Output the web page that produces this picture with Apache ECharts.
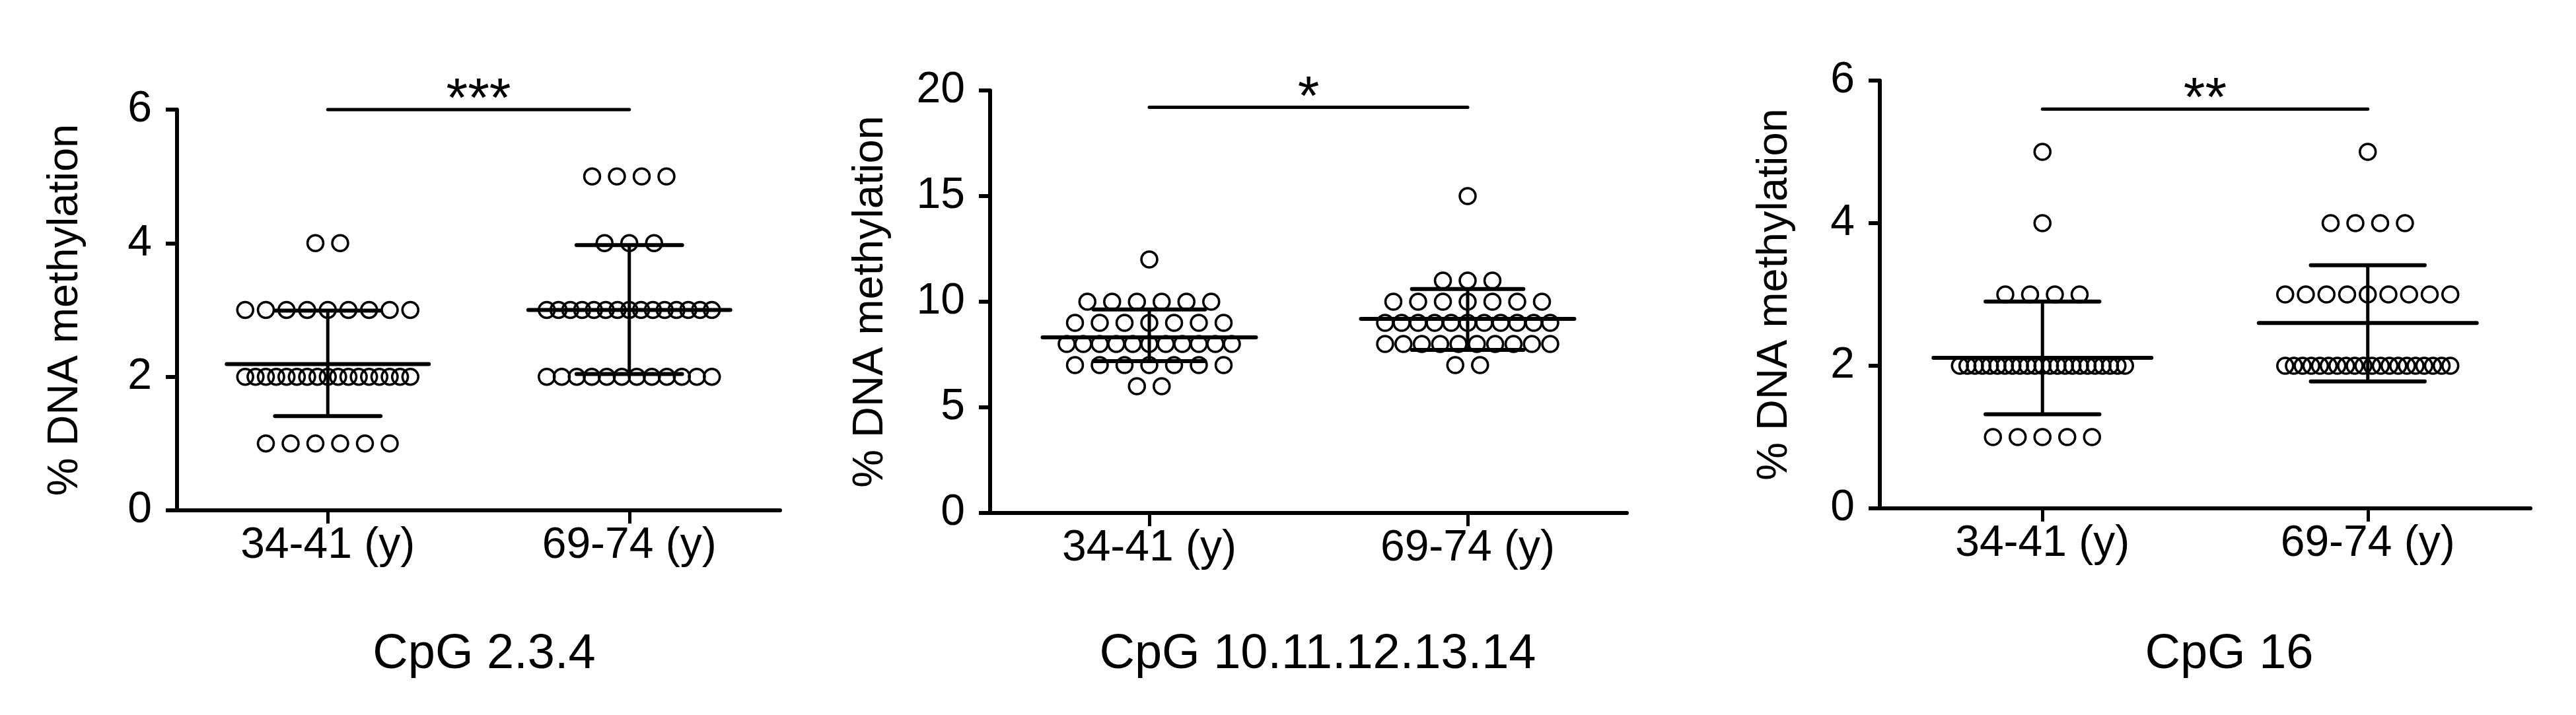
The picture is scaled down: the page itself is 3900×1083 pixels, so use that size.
<!DOCTYPE html>
<html>
<head>
<meta charset="utf-8">
<script src="https://cdn.jsdelivr.net/npm/echarts@6/dist/echarts.min.js"></script>
<style>
html,body{margin:0;padding:0;background:#fff;}
#chart{width:3900px;height:1083px;}
</style>
</head>
<body>
<div id="chart"></div>
<script>
// ---------------- data ----------------
const CATEGORIES = ['34-41 (y)', '69-74 (y)'];
const PANEL_TITLES = ['CpG 2.3.4', 'CpG 10.11.12.13.14', 'CpG 16'];
const SIG_LABELS = ['***', '*', '**'];
const SIG_Y = [6, 19.2, 5.6];
const Y_MAX = [6, 20, 6];
const Y_INTERVAL = [2, 5, 2];
const Y_NAME = '% DNA methylation';

// CpG 2.3.4
const cpg234_young = [4,4, 3,3,3,3,3,3,3,3,3, 2,2,2,2,2,2,2,2,2,2,2,2,2,2,2,2,2, 1,1,1,1,1,1];
const cpg234_old   = [5,5,5,5, 4,4,4, 3,3,3,3,3,3,3,3,3,3,3,3,3,3,3, 2,2,2,2,2,2,2,2,2,2,2,2];
const cpg234_mean  = [2.19, 3.0];
const cpg234_sdLow = [1.41, 2.04];
const cpg234_sdHigh= [2.99, 3.97];

// CpG 10.11.12.13.14
const cpg10_young = [12, 10,10,10,10,10,10, 9,9,9,9,9,9,9, 8,8,8,8,8,8,8,8,8,8,8, 7,7,7,7,7,7,7, 6,6];
const cpg10_old   = [15, 11,11,11, 10,10,10,10,10,10,10, 9,9,9,9,9,9,9,9,9,9,9, 8,8,8,8,8,8,8,8,8,8, 7,7];
const cpg10_mean  = [8.31, 9.19];
const cpg10_sdLow = [7.19, 7.72];
const cpg10_sdHigh= [9.63, 10.6];

// CpG 16
const cpg16_young = [5, 4, 3,3,3,3, 2,2,2,2,2,2,2,2,2,2,2,2,2,2,2,2,2,2,2,2,2,2,2, 1,1,1,1,1];
const cpg16_old   = [5, 4,4,4,4, 3,3,3,3,3,3,3,3,3, 2,2,2,2,2,2,2,2,2,2,2,2,2,2,2,2,2,2,2,2];
const cpg16_mean  = [2.11, 2.6];
const cpg16_sdLow = [1.32, 1.78];
const cpg16_sdHigh= [2.9, 3.41];

const PANELS = [
  {young: cpg234_young, old: cpg234_old, mean: cpg234_mean, lo: cpg234_sdLow, hi: cpg234_sdHigh},
  {young: cpg10_young,  old: cpg10_old,  mean: cpg10_mean,  lo: cpg10_sdLow,  hi: cpg10_sdHigh},
  {young: cpg16_young,  old: cpg16_old,  mean: cpg16_mean,  lo: cpg16_sdLow,  hi: cpg16_sdHigh}
];

// ---------------- layout ----------------
const FONT = '"Liberation Sans", Arial, Helvetica, sans-serif';
const GRIDS = [
  {left: 268,  top: 166, width: 913, height: 607},
  {left: 1499, top: 137, width: 964, height: 640},
  {left: 2846, top: 122, width: 985, height: 648}
];
const NAME_GAP = [136, 148, 126];
const TITLE_X = [728, 1990, 3370];
const STEP_PX = 37.5;   // spacing of dots in a row
const SPAN_PX = 250;    // max spread of a crowded row

// spread identical values side by side (scatter-dot-plot layout)
function swarm(values, group, pxPerUnit) {
  const counts = {};
  values.forEach(v => { counts[v] = (counts[v] || 0) + 1; });
  const seen = {};
  return values.map(v => {
    const n = counts[v];
    seen[v] = (seen[v] === undefined) ? 0 : seen[v] + 1;
    const k = seen[v];
    const step = n > 1 ? Math.min(STEP_PX, SPAN_PX / (n - 1)) : 0;
    const off = (k - (n - 1) / 2) * step;
    return [group + off / pxPerUnit, v];
  });
}

const option = {
  animation: false,
  backgroundColor: '#fff',
  textStyle: {fontFamily: FONT, color: '#000'},
  title: PANEL_TITLES.map((t, i) => ({
    text: t, left: TITLE_X[i], top: 950, textAlign: 'center',
    textStyle: {fontFamily: FONT, fontSize: 74, fontWeight: 'normal', color: '#000'}
  })),
  grid: GRIDS.map(g => Object.assign({containLabel: false}, g)),
  xAxis: [],
  yAxis: [],
  series: []
};

GRIDS.forEach((g, i) => {
  option.xAxis.push({
    type: 'category', gridIndex: i, data: CATEGORIES, boundaryGap: true,
    axisLine: {show: true, onZero: false, lineStyle: {color: '#000', width: 6}},
    axisTick: {show: true, alignWithLabel: true, length: 20, lineStyle: {color: '#000', width: 5}},
    axisLabel: {fontFamily: FONT, fontSize: 66, color: '#000', margin: 21},
    splitLine: {show: false}
  });
  option.xAxis.push({
    type: 'value', gridIndex: i, min: -0.5, max: 1.5, show: false
  });
  option.yAxis.push({
    type: 'value', gridIndex: i, min: 0, max: Y_MAX[i], interval: Y_INTERVAL[i],
    name: Y_NAME, nameLocation: 'middle', nameGap: NAME_GAP[i],
    nameTextStyle: {fontFamily: FONT, fontSize: 65, color: '#000'},
    axisLine: {show: true, onZero: false, lineStyle: {color: '#000', width: 6}},
    axisTick: {show: true, length: 17, lineStyle: {color: '#000', width: 6}},
    axisLabel: {fontFamily: FONT, fontSize: 66, color: '#000', margin: 38},
    splitLine: {show: false}
  });
  const p = PANELS[i];
  const pxPerUnit = g.width / 2;
  const pts = swarm(p.young, 0, pxPerUnit).concat(swarm(p.old, 1, pxPerUnit));
  option.series.push({
    type: 'scatter', xAxisIndex: 2 * i + 1, yAxisIndex: i,
    data: pts, symbol: 'circle', symbolSize: 24, z: 2,
    itemStyle: {color: 'rgba(0,0,0,0)', borderColor: '#000', borderWidth: 3.5, opacity: 1},
    emphasis: {disabled: true}, silent: true
  });
  option.series.push({
    type: 'custom', xAxisIndex: 2 * i + 1, yAxisIndex: i, z: 5, silent: true,
    data: [0, 1].map(k => [k, p.mean[k], p.lo[k], p.hi[k]]),
    renderItem: function (params, api) {
      const x = api.value(0);
      const m = api.value(1), lo = api.value(2), hi = api.value(3);
      const mL = api.coord([x - 0.335, m]), mR = api.coord([x + 0.335, m]);
      const cL = api.coord([x - 0.175, lo]), cR = api.coord([x + 0.175, lo]);
      const hL = api.coord([x - 0.175, hi]), hR = api.coord([x + 0.175, hi]);
      const vb = api.coord([x, lo]), vt = api.coord([x, hi]);
      const st = {stroke: '#000', lineWidth: 6, lineCap: 'round'};
      return {type: 'group', children: [
        {type: 'line', shape: {x1: mL[0], y1: mL[1], x2: mR[0], y2: mR[1]}, style: st},
        {type: 'line', shape: {x1: vb[0], y1: vb[1], x2: vt[0], y2: vt[1]}, style: {stroke: '#000', lineWidth: 5}},
        {type: 'line', shape: {x1: cL[0], y1: cL[1], x2: cR[0], y2: cR[1]}, style: st},
        {type: 'line', shape: {x1: hL[0], y1: hL[1], x2: hR[0], y2: hR[1]}, style: st}
      ]};
    }
  });
  option.series.push({
    type: 'custom', xAxisIndex: 2 * i + 1, yAxisIndex: i, z: 5, silent: true, clip: false,
    data: [[SIG_Y[i], i]],
    renderItem: function (params, api) {
      const y = api.value(0);
      const a = api.coord([0, y]), b = api.coord([1, y]);
      return {type: 'group', children: [
        {type: 'line', shape: {x1: a[0], y1: a[1], x2: b[0], y2: b[1]}, style: {stroke: '#000', lineWidth: 5, lineCap: 'round'}},
        {type: 'text', style: {text: SIG_LABELS[api.value(1)], x: (a[0] + b[0]) / 2, y: a[1] - 12,
          align: 'center', verticalAlign: 'middle', fontSize: 84, fontFamily: FONT, fill: '#000'}}
      ]};
    }
  });
});

const chart = echarts.init(document.getElementById('chart'), null, {renderer: 'canvas'});
chart.setOption(option);
</script>
</body>
</html>
